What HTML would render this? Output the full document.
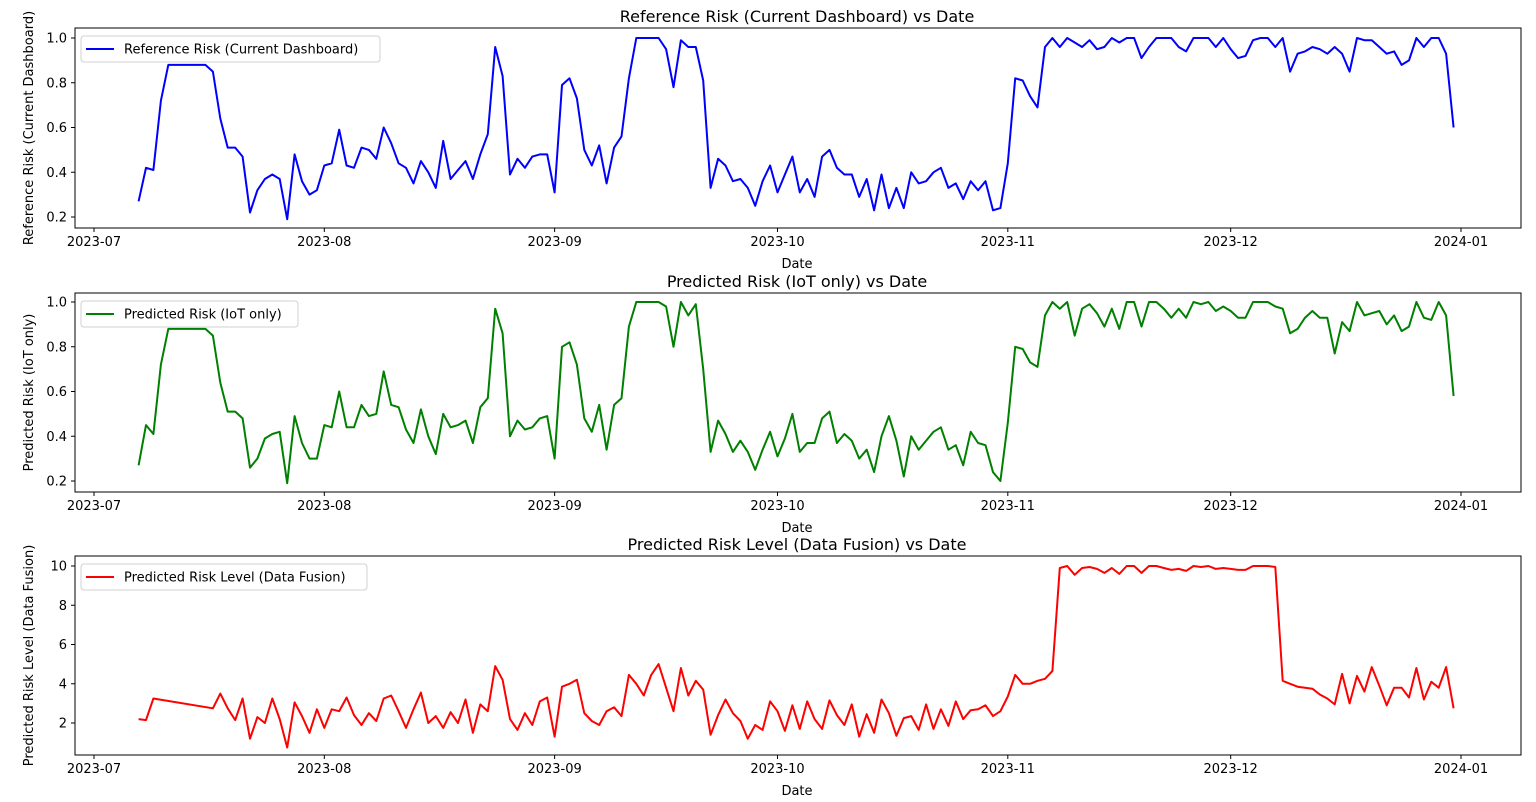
<!DOCTYPE html>
<html><head><meta charset="utf-8"><style>
body{margin:0;background:#fff;}
svg{display:block;font-family:"DejaVu Sans","Liberation Sans",sans-serif;}
</style></head><body>
<svg id="chart" width="1536" height="802"></svg>
<script>
const tickLabels=["2023-07","2023-08","2023-09","2023-10","2023-11","2023-12","2024-01"];
const tickDays=[0,31,62,92,123,153,184];
const startDay=6;
const refRisk=[0.27,0.42,0.41,0.72,0.88,0.88,0.88,0.88,0.88,0.88,0.85,0.64,0.51,0.51,0.47,0.22,0.32,0.37,0.39,0.37,0.19,0.48,0.36,0.30,0.32,0.43,0.44,0.59,0.43,0.42,0.51,0.50,0.46,0.60,0.53,0.44,0.42,0.35,0.45,0.40,0.33,0.54,0.37,0.41,0.45,0.37,0.48,0.57,0.96,0.83,0.39,0.46,0.42,0.47,0.48,0.48,0.31,0.79,0.82,0.73,0.50,0.43,0.52,0.35,0.51,0.56,0.82,1.0,1.0,1.0,1.0,0.95,0.78,0.99,0.96,0.96,0.81,0.33,0.46,0.43,0.36,0.37,0.33,0.25,0.36,0.43,0.31,0.39,0.47,0.31,0.37,0.29,0.47,0.50,0.42,0.39,0.39,0.29,0.37,0.23,0.39,0.24,0.33,0.24,0.40,0.35,0.36,0.40,0.42,0.33,0.35,0.28,0.36,0.32,0.36,0.23,0.24,0.44,0.82,0.81,0.74,0.69,0.96,1.0,0.96,1.0,0.98,0.96,0.99,0.95,0.96,1.0,0.98,1.0,1.0,0.91,0.96,1.0,1.0,1.0,0.96,0.94,1.0,1.0,1.0,0.96,1.0,0.95,0.91,0.92,0.99,1.0,1.0,0.96,1.0,0.85,0.93,0.94,0.96,0.95,0.93,0.96,0.93,0.85,1.0,0.99,0.99,0.96,0.93,0.94,0.88,0.90,1.0,0.96,1.0,1.0,0.93,0.60];
const iotRisk=[0.27,0.45,0.41,0.72,0.88,0.88,0.88,0.88,0.88,0.88,0.85,0.64,0.51,0.51,0.48,0.26,0.30,0.39,0.41,0.42,0.19,0.49,0.37,0.30,0.30,0.45,0.44,0.60,0.44,0.44,0.54,0.49,0.50,0.69,0.54,0.53,0.43,0.37,0.52,0.40,0.32,0.50,0.44,0.45,0.47,0.37,0.53,0.57,0.97,0.86,0.40,0.47,0.43,0.44,0.48,0.49,0.30,0.80,0.82,0.72,0.48,0.42,0.54,0.34,0.54,0.57,0.89,1.0,1.0,1.0,1.0,0.98,0.80,1.0,0.94,0.99,0.70,0.33,0.47,0.41,0.33,0.38,0.33,0.25,0.34,0.42,0.31,0.39,0.50,0.33,0.37,0.37,0.48,0.51,0.37,0.41,0.38,0.30,0.34,0.24,0.40,0.49,0.38,0.22,0.40,0.34,0.38,0.42,0.44,0.34,0.36,0.27,0.42,0.37,0.36,0.24,0.20,0.46,0.80,0.79,0.73,0.71,0.94,1.0,0.97,1.0,0.85,0.97,0.99,0.95,0.89,0.97,0.88,1.0,1.0,0.89,1.0,1.0,0.97,0.93,0.97,0.93,1.0,0.99,1.0,0.96,0.98,0.96,0.93,0.93,1.0,1.0,1.0,0.98,0.97,0.86,0.88,0.93,0.96,0.93,0.93,0.77,0.91,0.87,1.0,0.94,0.95,0.96,0.90,0.94,0.87,0.89,1.0,0.93,0.92,1.0,0.94,0.58];
const fusionLevel=[2.2,2.15,3.25,null,null,null,null,null,null,null,2.75,3.5,2.75,2.15,3.25,1.2,2.3,2.0,3.25,2.2,0.75,3.05,2.35,1.5,2.7,1.75,2.7,2.6,3.3,2.4,1.9,2.5,2.1,3.25,3.4,2.6,1.75,2.7,3.55,2.0,2.35,1.75,2.55,2.0,3.2,1.5,2.95,2.6,4.9,4.2,2.2,1.65,2.5,1.9,3.1,3.3,1.3,3.85,4.0,4.2,2.5,2.1,1.9,2.6,2.8,2.35,4.45,4.0,3.4,4.45,5.0,3.8,2.6,4.8,3.4,4.15,3.7,1.4,2.4,3.2,2.5,2.1,1.2,1.9,1.65,3.1,2.6,1.6,2.9,1.7,3.1,2.2,1.7,3.15,2.4,1.9,2.95,1.3,2.45,1.5,3.2,2.5,1.35,2.25,2.35,1.65,2.95,1.7,2.7,1.85,3.1,2.2,2.65,2.7,2.9,2.35,2.6,3.35,4.45,4.0,4.0,4.15,4.25,4.65,9.9,10.0,9.55,9.9,9.95,9.85,9.65,9.9,9.6,10.0,10.0,9.65,10.0,10.0,9.9,9.8,9.85,9.75,10.0,9.95,10.0,9.85,9.9,9.85,9.8,9.8,10.0,10.0,10.0,9.95,4.15,4.0,3.85,3.8,3.75,3.45,3.25,2.95,4.5,3.0,4.4,3.6,4.85,3.9,2.9,3.8,3.8,3.3,4.8,3.2,4.1,3.8,4.85,2.75];
const refTicks=[0.2,0.4,0.6,0.8,1.0];
const iotTicks=[0.2,0.4,0.6,0.8,1.0];
const fusionTicks=[2,4,6,8,10];

const NS="http://www.w3.org/2000/svg";
const svg=document.getElementById('chart');
function mk(tag,attrs,parent){const e=document.createElementNS(NS,tag);for(const k in attrs)e.setAttribute(k,attrs[k]);(parent||svg).appendChild(e);return e;}
function xScale(d){return 94+d*(1461-94)/184;}

const panels=[
 {key:'reference',top:28,bottom:228,vals:refRisk,ticks:refTicks,ymin:0.2,ymax:1.0,yTop:38,yBot:217,color:'#0000ff',title:'Reference Risk (Current Dashboard) vs Date',ylabel:'Reference Risk (Current Dashboard)',legend:'Reference Risk (Current Dashboard)',legW:299,fmt:v=>v.toFixed(1)},
 {key:'iot',top:293,bottom:492,vals:iotRisk,ticks:iotTicks,ymin:0.2,ymax:1.0,yTop:302,yBot:481,color:'#008000',title:'Predicted Risk (IoT only) vs Date',ylabel:'Predicted Risk (IoT only)',legend:'Predicted Risk (IoT only)',legW:217,fmt:v=>v.toFixed(1)},
 {key:'fusion',top:556,bottom:755,vals:fusionLevel,ticks:fusionTicks,ymin:2,ymax:10,yTop:566,yBot:723,color:'#ff0000',title:'Predicted Risk Level (Data Fusion) vs Date',ylabel:'Predicted Risk Level (Data Fusion)',legend:'Predicted Risk Level (Data Fusion)',legW:286,fmt:v=>String(v)}
];
panels.forEach(p=>{
 const g=mk('g',{});
 
 
 const yS=v=>p.yBot-(v-p.ymin)*(p.yBot-p.yTop)/(p.ymax-p.ymin);
 const t=mk('text',{x:797,y:p.top-6,'text-anchor':'middle','font-size':16,fill:'#000'},g);
 t.textContent=p.title;
 
 
 tickDays.forEach((d,i)=>{
  const x=xScale(d);
  const tl=mk('line',{x1:x,x2:x,y1:p.bottom,y2:p.bottom+4,stroke:'#000','stroke-width':1},g);
  
  
  const tx=mk('text',{x:x,y:p.bottom+18,'text-anchor':'middle','font-size':13,fill:'#000'},g);
  tx.textContent=tickLabels[i];
  
  
 });
 p.ticks.forEach(v=>{
  const y=yS(v);
  const tl=mk('line',{x1:71,x2:75,y1:y,y2:y,stroke:'#000','stroke-width':1},g);
  
  
  const tx=mk('text',{x:67,y:y+4.5,'text-anchor':'end','font-size':13,fill:'#000'},g);
  tx.textContent=p.fmt(v);
  
  
 });
 const xl=mk('text',{x:797,y:p.bottom+40,'text-anchor':'middle','font-size':13,fill:'#000'},g);
 xl.textContent='Date';
 
 
 const cy=(p.top+p.bottom)/2;
 const yl=mk('text',{x:33,y:cy,'text-anchor':'middle','font-size':13,fill:'#000',transform:`rotate(-90 33 ${cy})`},g);
 yl.textContent=p.ylabel;
 
 
 let d='';let started=false;
 p.vals.forEach((v,i)=>{if(v===null)return;const x=xScale(startDay+i),y=yS(v);d+=(started?'L':'M')+x.toFixed(1)+','+y.toFixed(1);started=true;});
 const path=mk('path',{d:d,fill:'none',stroke:p.color,'stroke-width':2,'stroke-linejoin':'round'},g);
 
 
 const fr=mk('rect',{x:75,y:p.top,width:1446,height:p.bottom-p.top,fill:'none',stroke:'#000','stroke-width':1},g);
 
 
 const lg=mk('g',{},g);
 
 
 mk('rect',{x:81,y:p.top+8,width:p.legW,height:26,rx:3,fill:'#fff',stroke:'#d0d0d0','stroke-width':1,'fill-opacity':0.8},lg);
 mk('line',{x1:86,x2:114,y1:p.top+21,y2:p.top+21,stroke:p.color,'stroke-width':2},lg);
 const lt=mk('text',{x:124,y:p.top+25.5,'font-size':13,fill:'#000'},lg);
 lt.textContent=p.legend;
 
 
});
</script>
</body></html>
